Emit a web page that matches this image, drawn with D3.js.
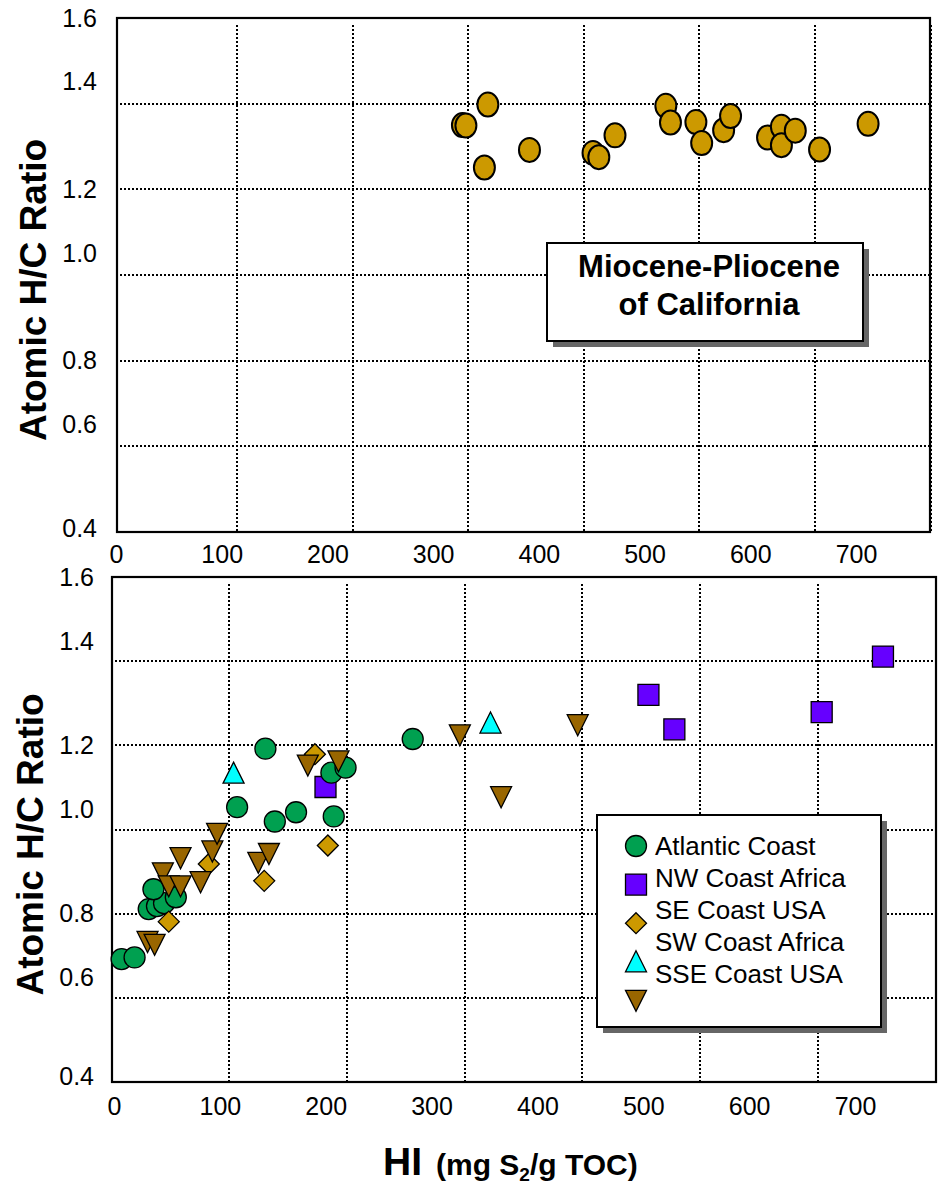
<!DOCTYPE html>
<html>
<head>
<meta charset="utf-8">
<script src="https://cdn.jsdelivr.net/npm/d3@7/dist/d3.min.js"></script>
<style>
  body { margin: 0; background: #fff; }
  svg { display: block; font-family: 'Liberation Sans', Arial, Helvetica, sans-serif; }
</style>
</head>
<body>
<svg id="chart" width="938" height="1188"></svg>
<script>
// axis ticks
const hiTicks = [0, 100, 200, 300, 400, 500, 600, 700];
const hcTicks = [0.4, 0.6, 0.8, 1.0, 1.2, 1.4, 1.6];

// top panel - Miocene-Pliocene of California
const caHI = [295, 298, 317, 314, 353, 408, 413, 427, 471, 475, 497, 502, 521, 527, 559, 571, 571, 583, 604, 646];
const caHC = [1.350, 1.349, 1.398, 1.251, 1.292, 1.285, 1.275, 1.326, 1.395, 1.356, 1.357, 1.308, 1.338, 1.371, 1.321, 1.346, 1.303, 1.337, 1.293, 1.353];

// bottom panel series
const seriesNames = ['Atlantic Coast', 'NW Coast Africa', 'SE Coast USA', 'SW Coast Africa', 'SSE Coast USA'];

const atlanticHI = [9, 20, 32, 39, 45, 55, 36, 107, 131, 139, 157, 189, 187, 199, 256];
const atlanticHC = [0.692, 0.696, 0.811, 0.818, 0.825, 0.839, 0.858, 1.053, 1.192, 1.019, 1.041, 1.031, 1.135, 1.147, 1.215];

const nwAfricaHI = [182, 456, 478, 603, 655];
const nwAfricaHC = [1.101, 1.320, 1.238, 1.279, 1.411];

const seUsaHI = [49, 83, 130, 173, 184];
const seUsaHC = [0.781, 0.918, 0.878, 1.179, 0.962];

const swAfricaHI = [104, 322];
const swAfricaHC = [1.134, 1.253];

const sseUsaHI = [31, 37, 44, 49, 59, 59, 76, 86, 90, 125, 134, 167, 193, 296, 396, 331];
const sseUsaHC = [0.734, 0.727, 0.897, 0.866, 0.866, 0.933, 0.876, 0.949, 0.991, 0.922, 0.943, 1.153, 1.163, 1.225, 1.249, 1.078];

const svg = d3.select('#chart');
const FONT = "'Liberation Sans', Arial, Helvetica, sans-serif";

// marker shapes, centred on (cx, cy)
const shapes = {
  circle: (cx, cy) => { const p = d3.path(); p.moveTo(cx + 10.5, cy); p.arc(cx, cy, 10.5, 0, 2 * Math.PI); p.closePath(); return p.toString(); },
  square: (cx, cy) => `M${cx - 10.5},${cy - 10.5}h21v21h-21Z`,
  diamond: (cx, cy) => `M${cx},${cy - 10.5}L${cx + 10.5},${cy}L${cx},${cy + 10.5}L${cx - 10.5},${cy}Z`,
  triUp: (cx, cy) => `M${cx},${cy - 11}L${cx + 10.5},${cy + 10}L${cx - 10.5},${cy + 10}Z`,
  triDown: (cx, cy) => `M${cx - 10.5},${cy - 10}L${cx + 10.5},${cy - 10}L${cx},${cy + 11}Z`
};

const series = [
  { name: seriesNames[1], hi: nwAfricaHI, hc: nwAfricaHC, shape: 'square', fill: '#6600FF' },
  { name: seriesNames[0], hi: atlanticHI, hc: atlanticHC, shape: 'circle', fill: '#00A050' },
  { name: seriesNames[2], hi: seUsaHI, hc: seUsaHC, shape: 'diamond', fill: '#CC9900' },
  { name: seriesNames[3], hi: swAfricaHI, hc: swAfricaHC, shape: 'triUp', fill: '#00FFFF' },
  { name: seriesNames[4], hi: sseUsaHI, hc: sseUsaHC, shape: 'triDown', fill: '#996600' }
];

function drawPanel(p) {
  const x = d3.scaleLinear().domain([0, 700]).range([p.gx0, p.gx1]);
  const y = d3.scaleLinear().domain([0.4, 1.6]).range([p.bottom, p.top]);
  // the tick labels of the original sit off the grid, so they get their own scale
  const xLab = d3.scaleLinear().domain([0, 700]).range(p.labRange);

  const g = svg.append('g');

  // dotted grid (snapped to whole pixels so the dots stay crisp)
  g.append('g').selectAll('line').data(hiTicks.slice(1)).join('line')
    .attr('x1', d => Math.round(x(d))).attr('x2', d => Math.round(x(d)))
    .attr('y1', p.top + 7).attr('y2', p.bottom)
    .attr('stroke', '#000').attr('stroke-width', 2).attr('stroke-dasharray', '2,2');
  g.append('g').selectAll('line').data(hcTicks.slice(1, -1)).join('line')
    .attr('x1', p.left + 3).attr('x2', p.right)
    .attr('y1', d => Math.round(y(d))).attr('y2', d => Math.round(y(d)))
    .attr('stroke', '#000').attr('stroke-width', 2).attr('stroke-dasharray', '2,2');

  // frame
  g.append('rect')
    .attr('x', p.left).attr('y', p.top)
    .attr('width', p.right - p.left).attr('height', p.bottom - p.top)
    .attr('fill', 'none').attr('stroke', '#000').attr('stroke-width', 2.2);

  // y tick labels
  const ya = g.append('g').attr('transform', `translate(${p.labX},0)`)
    .call(d3.axisLeft(y).tickValues(hcTicks).tickFormat(d3.format('.1f')).tickSize(0).tickPadding(0));
  ya.select('.domain').remove();
  ya.selectAll('text')
    .style('font-size', '25px').style('font-family', FONT).attr('fill', '#000')
    .attr('transform', (d, i) => `translate(0,${i % 2 ? p.oddShift : (i === 0 ? p.lowShift : 0)})`);

  // x tick labels
  const xa = g.append('g').attr('transform', `translate(0,${p.labY})`)
    .call(d3.axisBottom(xLab).tickValues(hiTicks).tickSize(0).tickPadding(0));
  xa.select('.domain').remove();
  xa.selectAll('text').style('font-size', '25px').style('font-family', FONT).attr('fill', '#000');

  // y title
  g.append('text')
    .attr('transform', `translate(${p.titleX},${(p.top + p.bottom) / 2 + 15}) rotate(-90)`)
    .attr('text-anchor', 'middle')
    .style('font-size', '37px').style('font-weight', 'bold')
    .text('Atomic H/C Ratio');

  return { g, x, y };
}

// ---------- top panel ----------
const topPanel = drawPanel({
  left: 117, right: 930, top: 18, bottom: 532, gx0: 121.5, gx1: 930.5,
  labRange: [116, 856], labX: 97, labY: 545, oddShift: -22, lowShift: -4, titleX: 46
});

// annotation box
topPanel.g.append('rect').attr('x', 553).attr('y', 249).attr('width', 316).attr('height', 98).attr('fill', '#666');
topPanel.g.append('rect').attr('x', 547).attr('y', 243).attr('width', 316).attr('height', 98)
  .attr('fill', '#fff').attr('stroke', '#000').attr('stroke-width', 2);
topPanel.g.append('text').attr('x', 709).attr('y', 277).attr('text-anchor', 'middle')
  .style('font-size', '31px').style('font-weight', 'bold').text('Miocene-Pliocene');
topPanel.g.append('text').attr('x', 709).attr('y', 315).attr('text-anchor', 'middle')
  .style('font-size', '31px').style('font-weight', 'bold').text('of California');

topPanel.g.append('g').selectAll('ellipse').data(d3.zip(caHI, caHC)).join('ellipse')
  .attr('cx', d => topPanel.x(d[0])).attr('cy', d => topPanel.y(d[1]))
  .attr('rx', 10.5).attr('ry', 12)
  .attr('fill', '#CC9900').attr('stroke', '#000').attr('stroke-width', 2);

// ---------- bottom panel ----------
const botPanel = drawPanel({
  left: 112, right: 936, top: 577, bottom: 1082, gx0: 111, gx1: 936,
  labRange: [114, 855], labX: 94, labY: 1097, oddShift: -20, lowShift: -6, titleX: 43
});

// legend box
const lg = botPanel.g.append('g');
lg.append('rect').attr('x', 603).attr('y', 821).attr('width', 284).attr('height', 212).attr('fill', '#666');
lg.append('rect').attr('x', 597).attr('y', 815).attr('width', 284).attr('height', 212)
  .attr('fill', '#fff').attr('stroke', '#000').attr('stroke-width', 2);

// legend order follows the name list
const legendOrder = [1, 0, 2, 3, 4].map(i => series[i]);
legendOrder.forEach((s, i) => {
  lg.append('path').attr('d', shapes[s.shape](636, 846 + i * 38.6))
    .attr('fill', s.fill).attr('stroke', '#000').attr('stroke-width', 1.3);
  lg.append('text').attr('x', 655).attr('y', 855 + i * 32)
    .style('font-size', '26px').text(s.name);
});

// data markers
series.forEach(s => {
  botPanel.g.append('g').selectAll('path').data(d3.zip(s.hi, s.hc)).join('path')
    .attr('d', d => shapes[s.shape](botPanel.x(d[0]), botPanel.y(d[1])))
    .attr('fill', s.fill).attr('stroke', '#000').attr('stroke-width', 1.3);
});

// x title
const xt = svg.append('text').attr('x', 383).attr('y', 1175).style('font-weight', 'bold');
xt.append('tspan').style('font-size', '39px').text('HI');
xt.append('tspan').attr('x', 436).style('font-size', '30px').text('(mg S');
xt.append('tspan').attr('dy', 6).style('font-size', '19px').text('2');
xt.append('tspan').attr('dy', -6).style('font-size', '30px').text('/g TOC)');
</script>
</body>
</html>
